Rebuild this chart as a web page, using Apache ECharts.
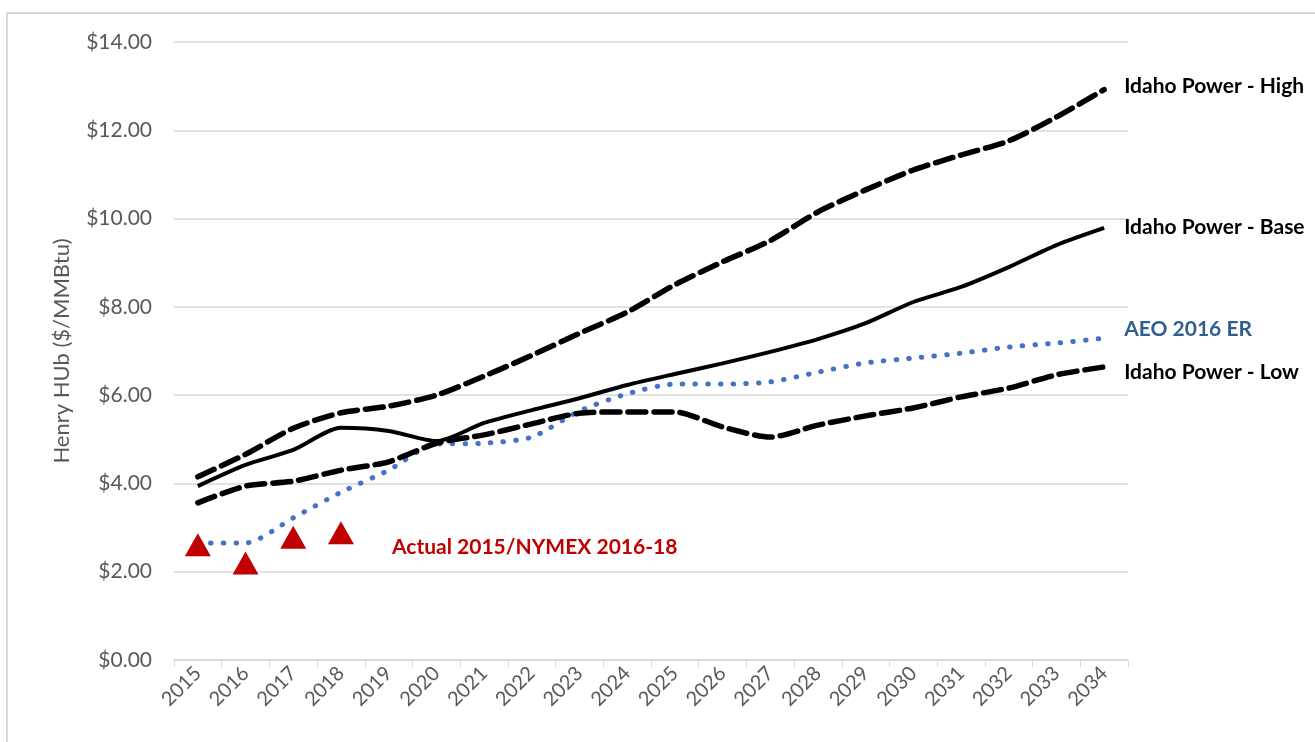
<!DOCTYPE html>
<html>
<head>
    <meta charset="UTF-8">
    <title>Henry Hub forecasts</title>
    <script src="https://fastly.jsdelivr.net/npm/echarts@6/dist/echarts.min.js"></script>
    <style>
        html, body { margin: 0; padding: 0; background: #fff; }
    </style>
</head>
<body>
    <div id="main" style="width:1315px; height:742px;"></div>

    <script>
        // years on the x axis
        var years = ['2015', '2016', '2017', '2018', '2019', '2020', '2021', '2022', '2023', '2024',
                     '2025', '2026', '2027', '2028', '2029', '2030', '2031', '2032', '2033', '2034'];

        // $/MMBtu
        var ipcHigh = [4.15, 4.66, 5.25, 5.6, 5.75, 6.0, 6.43, 6.9, 7.4, 7.88,
                       8.5, 9.02, 9.5, 10.15, 10.65, 11.1, 11.44, 11.76, 12.3, 12.92];
        var ipcBase = [3.94, 4.42, 4.76, 5.26, 5.19, 4.96, 5.37, 5.66, 5.93, 6.23,
                       6.48, 6.72, 6.98, 7.27, 7.63, 8.11, 8.45, 8.9, 9.4, 9.79];
        var ipcLow  = [3.56, 3.94, 4.05, 4.3, 4.49, 4.91, 5.1, 5.35, 5.59, 5.62,
                       5.62, 5.28, 5.05, 5.32, 5.53, 5.71, 5.96, 6.16, 6.46, 6.64];
        var aeo2016 = [2.65, 2.65, 3.22, 3.8, 4.3, 4.89, 4.91, 5.05, 5.64, 6.03,
                       6.25, 6.25, 6.3, 6.52, 6.73, 6.84, 6.95, 7.09, 7.18, 7.29];
        var actualNymex = [2.61, 2.2, 2.78, 2.88];

        var yTicks = { min: 0, max: 14, interval: 2 };

        var chart = echarts.init(document.getElementById('main'), null, {renderer: 'canvas'});

        var labelFont = 'Lato, "Open Sans", sans-serif';

        function endLbl(text, color, dy) {
            return {
                show: true,
                formatter: text,
                color: color,
                fontFamily: labelFont,
                fontWeight: 'bold',
                fontSize: 21,
                distance: 20,
                offset: [0, dy]
            };
        }

        var option = {
            backgroundColor: '#fff',
            animation: false,
            grid: { left: 174, right: 187, top: 42, bottom: 82 },
            graphic: [
                {
                    type: 'rect',
                    shape: { x: 7, y: 13, width: 1330, height: 760 },
                    style: { fill: 'none', stroke: '#d9d9d9', lineWidth: 2 },
                    silent: true
                },
                {
                    type: 'text',
                    left: 392,
                    top: 537,
                    style: {
                        text: 'Actual 2015/NYMEX 2016-18',
                        fill: '#c00000',
                        font: 'bold 21px ' + labelFont
                    }
                }
            ],
            xAxis: {
                type: 'category',
                data: years,
                boundaryGap: true,
                axisLine: { lineStyle: { color: '#d9d9d9', width: 1.5 } },
                axisTick: { show: true, length: 7, lineStyle: { color: '#d9d9d9' } },
                axisLabel: {
                    rotate: 45,
                    color: '#595959',
                    fontFamily: labelFont,
                    fontSize: 20,
                    margin: 10,
                    interval: 0
                },
                splitLine: { show: false }
            },
            yAxis: {
                type: 'value',
                min: yTicks.min,
                max: yTicks.max,
                interval: yTicks.interval,
                name: 'Henry HUb ($/MMBtu)',
                nameLocation: 'middle',
                nameGap: 101,
                nameTextStyle: { color: '#595959', fontFamily: labelFont, fontSize: 22 },
                axisLine: { show: false },
                axisTick: { show: false },
                axisLabel: {
                    color: '#595959',
                    fontFamily: labelFont,
                    fontSize: 21,
                    margin: 22,
                    formatter: function (v) { return '$' + v.toFixed(2); }
                },
                splitLine: { lineStyle: { color: '#d9d9d9', width: 1.5 } }
            },
            series: [
                {
                    name: 'Idaho Power - High',
                    type: 'line',
                    data: ipcHigh,
                    smooth: 0.25,
                    symbol: 'none',
                    lineStyle: { color: '#000', width: 5.5, type: [18, 8], cap: 'round' },
                    endLabel: endLbl('Idaho Power - High', '#000', -3)
                },
                {
                    name: 'Idaho Power - Base',
                    type: 'line',
                    data: ipcBase,
                    smooth: 0.25,
                    symbol: 'none',
                    lineStyle: { color: '#000', width: 4 },
                    endLabel: endLbl('Idaho Power - Base', '#000', -1)
                },
                {
                    name: 'AEO 2016 ER',
                    type: 'line',
                    data: aeo2016,
                    smooth: 0.25,
                    symbol: 'none',
                    lineStyle: { color: '#4472c4', width: 5, type: [0.5, 12.2], cap: 'round' },
                    endLabel: endLbl('AEO 2016 ER', '#2f5f8f', -9)
                },
                {
                    name: 'Idaho Power - Low',
                    type: 'line',
                    data: ipcLow,
                    smooth: 0.25,
                    symbol: 'none',
                    lineStyle: { color: '#000', width: 5.5, type: [18, 8], cap: 'round' },
                    endLabel: endLbl('Idaho Power - Low', '#000', 5)
                },
                {
                    name: 'Actual 2015/NYMEX 2016-18',
                    type: 'line',
                    data: actualNymex,
                    symbol: 'triangle',
                    symbolSize: [26, 23],
                    showSymbol: true,
                    lineStyle: { width: 0 },
                    itemStyle: { color: '#c00000' },
                    z: 5
                }
            ]
        };

        chart.setOption(option);
    </script>
</body>
</html>
